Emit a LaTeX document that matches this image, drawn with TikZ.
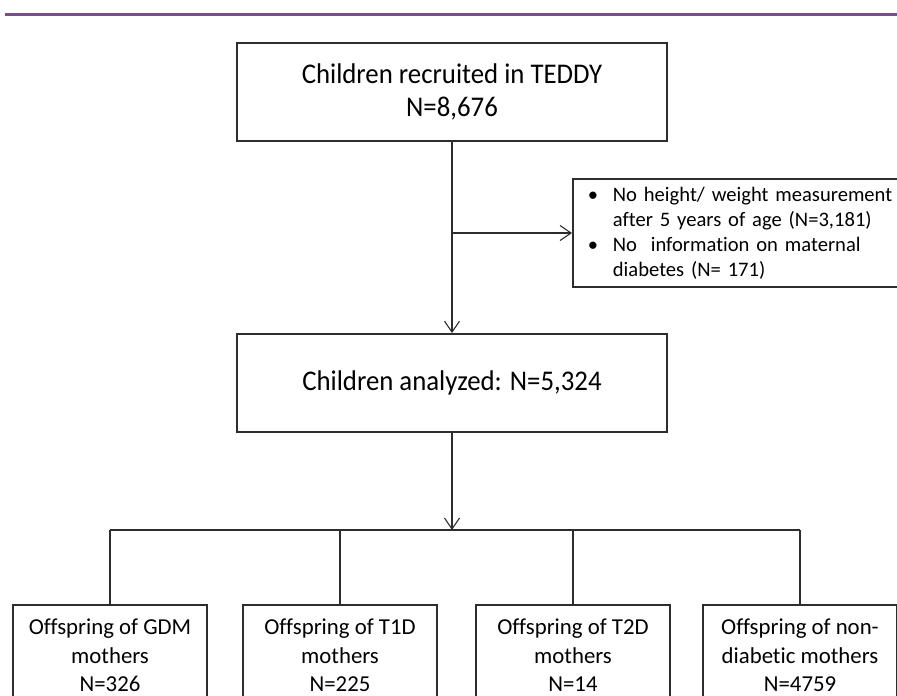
\documentclass[tikz,border=0pt]{standalone}
\usepackage{fontspec}
\setmainfont[Ligatures=NoCommon]{Carlito}
\newfontfamily\boxfont[FakeStretch=0.94,Ligatures=NoCommon]{Carlito}
\usetikzlibrary{arrows.meta}
\definecolor{bandpurple}{RGB}{122,77,140}
\definecolor{edgegray}{RGB}{45,45,45}
\newcommand{\sidefont}{\fontsize{20.6}{25}\selectfont\spaceskip=4.7pt\relax}
\newcommand{\sidebullet}{\makebox[25pt][l]{\textbullet}}
\newcommand{\sideindent}{\hspace*{25pt}}
\begin{document}
\begin{tikzpicture}[x=1pt,y=-1pt,
    box/.style={draw=edgegray,line width=1.8pt,align=center,inner sep=0pt},
    bigtext/.style={font=\boxfont\fontsize{28.5}{33}\selectfont},
    leaf/.style={box,anchor=north,minimum width=194pt,minimum height=100pt,
        inner ysep=14pt,font=\fontsize{22.8}{28.5}\selectfont},
    link/.style={line width=1.1pt,draw=edgegray},
    >={Straight Barb[length=11pt,width=15pt,line width=1.1pt]}]
    \path[use as bounding box,clip] (0,0) rectangle (897,696);

    \draw[bandpurple,line width=3pt] (5,14) -- (897,14);

    \node[box,bigtext,minimum width=430pt,minimum height=98pt] (recruited) at (452,92)
        {Children recruited in TEDDY\\N=8,676};
    \node[box,bigtext,minimum width=430pt,minimum height=98pt] (analyzed) at (452,383)
        {Children analyzed: N=5,324};
    \node[box,anchor=west,text width=310pt,minimum height=108pt,inner xsep=15pt,
        align=left,font=\sidefont] (excluded) at (572,233)
        {\sidebullet No height/ weight measurement\\
         \sideindent after 5 years of age (N=3,181)\\
         \sidebullet No\ \ information on maternal\\
         \sideindent diabetes (N= 171)};

    % offspring groups
    \node[leaf] (gdm) at (110,604) {Offspring of GDM\\mothers\\N=326};
    \node[leaf] (tone) at (340,604) {Offspring of T1D\\mothers\\N=225};
    \node[leaf] (ttwo) at (573,604) {Offspring of T2D\\mothers\\N=14};
    \node[leaf] (nondiab) at (800,604) {Offspring of non-\\diabetic mothers\\N=4759};

    \coordinate (split) at (recruited.south |- excluded.west);
    \coordinate (fork) at (452,530);

    \draw[link,->] (recruited) -- (analyzed);
    \draw[link,->] (split) -- (excluded.west);
    \draw[link,->] (analyzed) -- (fork);
    \draw[link] (gdm.north |- fork) -- (nondiab.north |- fork);
    \foreach \grp in {gdm,tone,ttwo,nondiab}
        \draw[link] (\grp.north |- fork) -- (\grp.north);
\end{tikzpicture}
\end{document}
